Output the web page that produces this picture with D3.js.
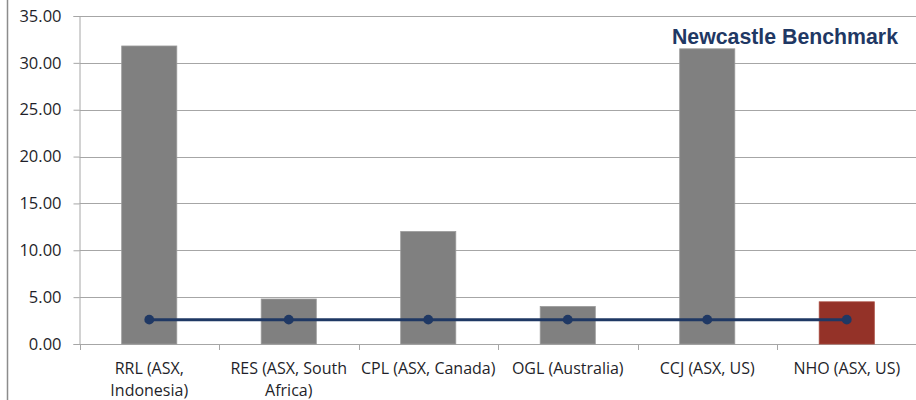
<!DOCTYPE html>
<html>
<head>
<meta charset="utf-8">
<script src="https://cdnjs.cloudflare.com/ajax/libs/d3/7.8.5/d3.min.js"></script>
<style>
  body { margin: 0; background: #fff; }
  svg { display: block; }
</style>
</head>
<body>
<script>
// data
var companies = [["RRL (ASX,", "Indonesia)"], ["RES (ASX, South", "Africa)"], ["CPL (ASX, Canada)"],
                 ["OGL (Australia)"], ["CCJ (ASX, US)"], ["NHO (ASX, US)"]];
var ratios = [31.8, 4.8, 12.0, 4.0, 31.5, 4.5];
var benchmark = [2.6, 2.6, 2.6, 2.6, 2.6, 2.6];
var yTicks = [0, 5, 10, 15, 20, 25, 30, 35];
var legendLabel = "Newcastle Benchmark";

var W = 916, H = 400;
var svg = d3.select("body").append("svg").attr("width", W).attr("height", H);

var x0 = 79.5, x1 = 916.5, yTop = 16, yBot = 344;
var idx = d3.range(companies.length);

var x = d3.scaleBand().domain(idx).range([x0, x1]).paddingInner(0.605).paddingOuter(0.3025);
var y = d3.scaleLinear().domain([0, 35]).range([yBot, yTop]);

// left frame line
svg.append("line").attr("x1", 7.5).attr("x2", 7.5).attr("y1", 0).attr("y2", H)
   .attr("stroke", "#8c8c8c").attr("stroke-width", 1.5);

// gridlines
svg.selectAll(".grid").data(yTicks).enter().append("line")
   .attr("x1", x0).attr("x2", W)
   .attr("y1", function(d){ return Math.round(y(d)) + 0.5; })
   .attr("y2", function(d){ return Math.round(y(d)) + 0.5; })
   .attr("stroke", "#a6a6a6").attr("stroke-width", 1);

// y axis
var yAxis = d3.axisLeft(y).tickValues(yTicks).tickSize(6).tickPadding(12)
   .tickFormat(d3.format(".2f"));
var gy = svg.append("g").attr("transform", "translate(" + x0 + ",0)").call(yAxis);
gy.select(".domain").attr("stroke", "#a6a6a6");
gy.selectAll(".tick line").attr("stroke", "#a6a6a6");
gy.selectAll("text").attr("font-family", "Open Sans, sans-serif").attr("font-size", 16.5)
   .attr("fill", "#1f1f2a");

// x axis ticks at band boundaries
var bw = (x1 - x0) / companies.length;
svg.selectAll(".xt").data(d3.range(companies.length + 1)).enter().append("line")
   .attr("x1", function(d){ return Math.round(x0 + d * bw) + 0.5; })
   .attr("x2", function(d){ return Math.round(x0 + d * bw) + 0.5; })
   .attr("y1", yBot).attr("y2", yBot + 6)
   .attr("stroke", "#a6a6a6");

// bars
svg.selectAll(".bar").data(ratios).enter().append("rect")
   .attr("x", function(d, i){ return x(i); })
   .attr("width", x.bandwidth())
   .attr("y", function(d){ return y(d); })
   .attr("height", function(d){ return yBot - y(d); })
   .attr("fill", function(d, i){ return i === ratios.length - 1 ? "#943228" : "#808080"; })
   .attr("stroke", function(d, i){ return i === ratios.length - 1 ? "#a8493e" : "#9a9a9a"; })
   .attr("stroke-width", 0.8);

// benchmark line
var cx = function(i){ return x(i) + x.bandwidth() / 2; };
var line = d3.line().x(function(d, i){ return cx(i); }).y(function(d){ return y(d); });
svg.append("path").datum(benchmark).attr("d", line)
   .attr("fill", "none").attr("stroke", "#1f3864").attr("stroke-width", 3);
svg.selectAll(".mk").data(benchmark).enter().append("path")
   .attr("transform", function(d, i){ return "translate(" + cx(i) + "," + y(d) + ")"; })
   .attr("d", d3.symbol().type(d3.symbolCircle).size(75))
   .attr("fill", "#1f3864");

// category labels
var lab = svg.selectAll(".lab").data(companies).enter().append("text")
   .attr("x", function(d, i){ return cx(i); })
   .attr("y", 374)
   .attr("text-anchor", "middle")
   .attr("font-family", "Open Sans, sans-serif").attr("font-size", 16)
   .attr("fill", "#1f1f2a");
lab.selectAll("tspan").data(function(d){ return d; }).enter().append("tspan")
   .attr("x", function(){ return d3.select(this.parentNode).attr("x"); })
   .attr("dy", function(d, j){ return j === 0 ? 0 : 21.5; })
   .text(function(d){ return d; });

// legend text
svg.append("text").attr("x", 898).attr("y", 44).attr("text-anchor", "end")
   .attr("font-family", "Liberation Sans, Arial, sans-serif").attr("font-weight", "bold")
   .attr("font-size", 21.3).attr("fill", "#1f3864")
   .text(legendLabel);
</script>
</body>
</html>
